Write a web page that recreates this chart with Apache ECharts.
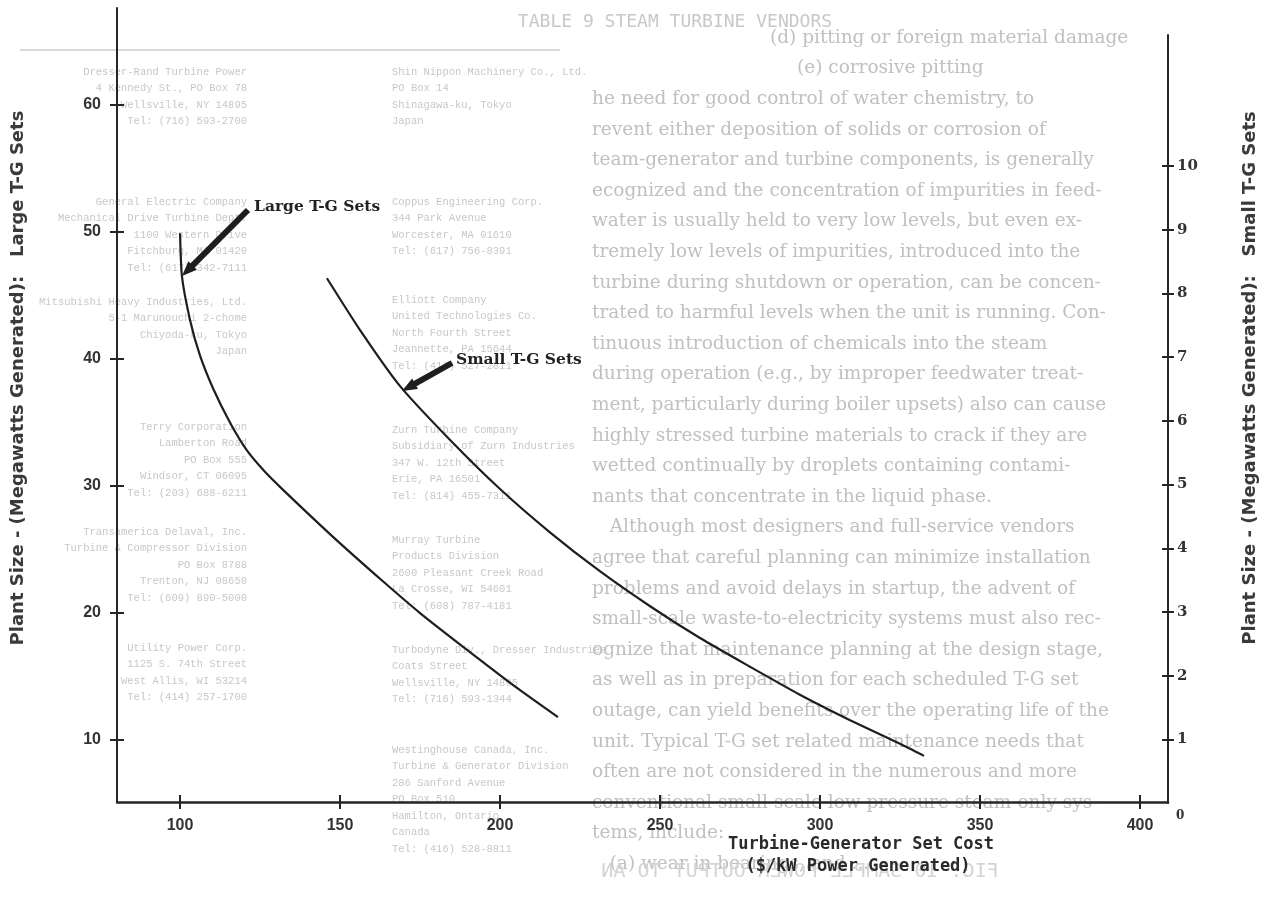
<!DOCTYPE html>
<html>
<head>
<meta charset="utf-8">
<title>Plant Size vs Turbine-Generator Set Cost</title>
<script src="https://cdn.jsdelivr.net/npm/echarts@6/dist/echarts.min.js"></script>
<style>
  html, body { margin: 0; padding: 0; background: #fff; }
  #chart { width: 1269px; height: 900px; }
</style>
</head>
<body>
<div id="chart"></div>
<script>
// tick labels
const costTicks = [100, 150, 200, 250, 300, 350, 400];
const largeTicks = [10, 20, 30, 40, 50, 60];
const smallTicks = [1, 2, 3, 4, 5, 6, 7, 8, 9, 10];

// Large T-G sets: cost ($/kW) vs plant size (MW, left axis)
const largeCost = [100.0, 100.6, 103.1, 106.2, 110.3, 115.6, 120.9, 126.6, 132.2, 147.8, 163.4, 175.0, 189.7, 205.3, 218.1];
const largeSize = [49.9, 46.5, 43.1, 40.3, 37.7, 35.0, 32.8, 31.1, 29.7, 26.0, 22.5, 20.0, 17.1, 14.1, 11.8];

// Small T-G sets: cost ($/kW) vs plant size (MW, right axis)
const smallCost = [145.9, 156.2, 168.7, 184.4, 200.0, 215.6, 231.2, 246.9, 262.5, 278.1, 293.7, 309.4, 325.0, 332.5];
const smallSize = [8.24, 7.43, 6.55, 5.70, 4.93, 4.25, 3.64, 3.09, 2.59, 2.14, 1.70, 1.30, 0.93, 0.74];

// show-through text from the scanned page (background only)
const pageLines = [
  '(d) pitting or foreign material damage',
  '(e) corrosive pitting',
  'he need for good control of water chemistry, to',
  'revent either deposition of solids or corrosion of',
  'team-generator and turbine components, is generally',
  'ecognized and the concentration of impurities in feed-',
  'water is usually held to very low levels, but even ex-',
  'tremely low levels of impurities, introduced into the',
  'turbine during shutdown or operation, can be concen-',
  'trated to harmful levels when the unit is running. Con-',
  'tinuous introduction of chemicals into the steam',
  'during operation (e.g., by improper feedwater treat-',
  'ment, particularly during boiler upsets) also can cause',
  'highly stressed turbine materials to crack if they are',
  'wetted continually by droplets containing contami-',
  'nants that concentrate in the liquid phase.',
  '   Although most designers and full-service vendors',
  'agree that careful planning can minimize installation',
  'problems and avoid delays in startup, the advent of',
  'small-scale waste-to-electricity systems must also rec-',
  'ognize that maintenance planning at the design stage,',
  'as well as in preparation for each scheduled T-G set',
  'outage, can yield benefits over the operating life of the',
  'unit. Typical T-G set related maintenance needs that',
  'often are not considered in the numerous and more',
  'conventional small-scale low pressure steam-only sys-',
  'tems, include:',
  '   (a) wear in bearings, and ...'
];
const vendorsA = [
  ['Dresser-Rand Turbine Power', '4 Kennedy St., PO Box 78', 'Wellsville, NY 14895', 'Tel: (716) 593-2700'],
  ['General Electric Company', 'Mechanical Drive Turbine Dept.', '1100 Western Drive', 'Fitchburg, MA 01420', 'Tel: (617) 342-7111'],
  ['Mitsubishi Heavy Industries, Ltd.', '5-1 Marunouchi 2-chome', 'Chiyoda-ku, Tokyo', 'Japan'],
  ['Terry Corporation', 'Lamberton Road', 'PO Box 555', 'Windsor, CT 06095', 'Tel: (203) 688-6211'],
  ['Transamerica Delaval, Inc.', 'Turbine & Compressor Division', 'PO Box 8788', 'Trenton, NJ 08650', 'Tel: (609) 890-5000'],
  ['Utility Power Corp.', '1125 S. 74th Street', 'West Allis, WI 53214', 'Tel: (414) 257-1700']
];
const vendorsB = [
  ['Shin Nippon Machinery Co., Ltd.', 'PO Box 14', 'Shinagawa-ku, Tokyo', 'Japan'],
  ['Coppus Engineering Corp.', '344 Park Avenue', 'Worcester, MA 01610', 'Tel: (617) 756-8391'],
  ['Elliott Company', 'United Technologies Co.', 'North Fourth Street', 'Jeannette, PA 15644', 'Tel: (412) 527-2811'],
  ['Zurn Turbine Company', 'Subsidiary of Zurn Industries', '347 W. 12th Street', 'Erie, PA 16501', 'Tel: (814) 455-7311'],
  ['Murray Turbine', 'Products Division', '2600 Pleasant Creek Road', 'La Crosse, WI 54601', 'Tel: (608) 787-4181'],
  ['Turbodyne Div., Dresser Industries', 'Coats Street', 'Wellsville, NY 14895', 'Tel: (716) 593-1344'],
  ['Westinghouse Canada, Inc.', 'Turbine & Generator Division', '286 Sanford Avenue', 'PO Box 510', 'Hamilton, Ontario', 'Canada', 'Tel: (416) 528-8811']
];

const zip = (xs, ys) => xs.map((x, i) => [x, ys[i]]);

function arrow(x1, y1, x2, y2) {
  const dx = x2 - x1, dy = y2 - y1, len = Math.hypot(dx, dy);
  const ux = dx / len, uy = dy / len;
  const head = 15, half = 6;
  const bx = x2 - ux * head, by = y2 - uy * head;
  return [
    { type: 'line', z: 50, shape: { x1: x1, y1: y1, x2: bx + ux * 2, y2: by + uy * 2 }, style: { stroke: '#1e1e1e', lineWidth: 6 } },
    { type: 'polygon', z: 50, shape: { points: [[x2, y2], [bx - uy * half, by + ux * half], [bx + uy * half, by - ux * half]] }, style: { fill: '#1e1e1e' } }
  ];
}

const ghost = '#c0c0c0';
const bg = [];
pageLines.forEach((t, i) => {
  let x = 592;
  if (i === 0) x = 770;
  if (i === 1) x = 797;
  bg.push({ type: 'text', z: -10, x: x, y: 38 + i * 30.6, style: { text: t, fontFamily: 'DejaVu Serif', fontSize: 18.5, fill: ghost, verticalAlign: 'middle' } });
});
const blockA = [72, 202, 302, 427, 532, 648];
vendorsA.forEach((blk, b) => blk.forEach((t, j) => {
  bg.push({ type: 'text', z: -10, x: 247, y: blockA[b] + j * 16.5, style: { text: t, fontFamily: 'Liberation Mono', fontSize: 10.5, fill: '#c8c8c8', align: 'right', verticalAlign: 'middle' } });
}));
const blockB = [72, 202, 300, 430, 540, 650, 750];
vendorsB.forEach((blk, b) => blk.forEach((t, j) => {
  bg.push({ type: 'text', z: -10, x: 392, y: blockB[b] + j * 16.5, style: { text: t, fontFamily: 'Liberation Mono', fontSize: 10.5, fill: '#c8c8c8', verticalAlign: 'middle' } });
}));
bg.push({ type: 'text', z: -10, x: 675, y: 22, style: { text: 'TABLE 9 STEAM TURBINE VENDORS', fontFamily: 'DejaVu Sans Mono', fontSize: 18, fill: '#c8c8c8', align: 'center', verticalAlign: 'middle' } });
bg.push({ type: 'line', z: -10, shape: { x1: 20, y1: 50, x2: 560, y2: 50 }, style: { stroke: '#dadada', lineWidth: 2 } });
bg.push({ type: 'text', z: -10, x: 800, y: 872, scaleX: -1, style: { text: 'FIG. 10 SAMPLE POWER OUTPUT TO AN', fontFamily: 'DejaVu Sans Mono', fontSize: 20, fill: '#d4d4d4', align: 'center', verticalAlign: 'middle' } });

const axisColor = '#262626';
const tickFont = { fontFamily: 'Liberation Sans', fontWeight: 'bold', fontSize: 16, color: '#333' };
const titleFont = { fontFamily: 'DejaVu Sans', fontWeight: 'bold', fontSize: 18, fill: '#3a3a3a' };
const hiddenLine = { show: true, lineStyle: { opacity: 0 } };

const chart = echarts.init(document.getElementById('chart'));
const option = {
  backgroundColor: '#fff',
  animation: false,
  grid: [
    { left: 117, right: 101, top: 8, bottom: 98 },
    { left: 117, right: 101, top: 35, bottom: 97 }
  ],
  xAxis: [
    {
      gridIndex: 0, type: 'value', min: 80.3, max: 408.75, position: 'bottom',
      axisLine: { lineStyle: { color: axisColor, width: 2.5 } },
      axisTick: { customValues: costTicks, length: 7, lineStyle: { color: axisColor, width: 2 } },
      axisLabel: Object.assign({ customValues: costTicks, margin: 16 }, tickFont),
      splitLine: { show: false }
    },
    {
      gridIndex: 0, type: 'value', min: 80.3, max: 408.75, position: 'bottom',
      axisLine: hiddenLine,
      axisTick: { customValues: costTicks, inside: true, length: 7, lineStyle: { color: axisColor, width: 2 } },
      axisLabel: { show: false },
      splitLine: { show: false }
    },
    { gridIndex: 1, type: 'value', min: 80.3, max: 408.75, show: false }
  ],
  yAxis: [
    {
      gridIndex: 0, type: 'value', min: 5.12, max: 67.64, position: 'left',
      axisLine: { show: true, lineStyle: { color: axisColor, width: 2 } },
      axisTick: { show: true, customValues: largeTicks, length: 7, lineStyle: { color: axisColor, width: 2 } },
      axisLabel: Object.assign({ customValues: largeTicks, margin: 16 }, tickFont),
      splitLine: { show: false }
    },
    {
      gridIndex: 0, type: 'value', min: 5.12, max: 67.64, position: 'left',
      axisLine: hiddenLine,
      axisTick: { show: true, customValues: largeTicks, inside: true, length: 7, lineStyle: { color: axisColor, width: 2 } },
      axisLabel: { show: false },
      splitLine: { show: false }
    },
    {
      gridIndex: 1, type: 'value', min: 0, max: 12.06, position: 'right',
      axisLine: { show: true, lineStyle: { color: axisColor, width: 2 } },
      axisTick: { show: true, customValues: smallTicks, length: 6, lineStyle: { color: axisColor, width: 2 } },
      axisLabel: { customValues: smallTicks, margin: 9, fontFamily: 'DejaVu Serif', fontWeight: 'bold', fontSize: 15, color: '#333' },
      splitLine: { show: false }
    },
    {
      gridIndex: 1, type: 'value', min: 0, max: 12.06, position: 'right',
      axisLine: hiddenLine,
      axisTick: { show: true, customValues: smallTicks, inside: true, length: 6, lineStyle: { color: axisColor, width: 2 } },
      axisLabel: { show: false },
      splitLine: { show: false }
    }
  ],
  series: [
    {
      name: 'Large T-G Sets', type: 'line', xAxisIndex: 0, yAxisIndex: 0,
      data: zip(largeCost, largeSize), smooth: 0.2, showSymbol: false,
      lineStyle: { color: '#1e1e1e', width: 2.2 }
    },
    {
      name: 'Small T-G Sets', type: 'line', xAxisIndex: 2, yAxisIndex: 2,
      data: zip(smallCost, smallSize), smooth: 0.2, showSymbol: false,
      lineStyle: { color: '#1e1e1e', width: 2.2 }
    }
  ],
  graphic: bg.concat(
    arrow(248, 210, 182, 276),
    arrow(452, 363, 402, 391),
    [
      { type: 'text', z: 50, x: 254, y: 207, style: { text: 'Large T-G Sets', fontFamily: 'DejaVu Serif', fontWeight: 'bold', fontSize: 15.5, fill: '#222', verticalAlign: 'middle' } },
      { type: 'text', z: 50, x: 456, y: 360, style: { text: 'Small T-G Sets', fontFamily: 'DejaVu Serif', fontWeight: 'bold', fontSize: 15.5, fill: '#222', verticalAlign: 'middle' } },
      { type: 'text', z: 50, x: 861, y: 845, style: { text: 'Turbine-Generator Set Cost', fontFamily: 'DejaVu Sans Mono', fontWeight: 'bold', fontSize: 17, fill: '#2a2a2a', align: 'center', verticalAlign: 'middle' } },
      { type: 'text', z: 50, x: 858, y: 867, style: { text: '($/kW Power Generated)', fontFamily: 'DejaVu Sans Mono', fontWeight: 'bold', fontSize: 17, fill: '#2a2a2a', align: 'center', verticalAlign: 'middle' } },
      { type: 'text', z: 50, x: 18, y: 378, rotation: Math.PI / 2, style: Object.assign({ text: 'Plant Size - (Megawatts Generated):   Large T-G Sets', align: 'center', verticalAlign: 'middle' }, titleFont) },
      { type: 'text', z: 50, x: 1250, y: 378, rotation: Math.PI / 2, style: Object.assign({ text: 'Plant Size - (Megawatts Generated):   Small T-G Sets', align: 'center', verticalAlign: 'middle' }, titleFont) },
      { type: 'text', z: 50, x: 1176, y: 816, style: { text: '0', fontFamily: 'DejaVu Serif', fontWeight: 'bold', fontSize: 12, fill: '#333', verticalAlign: 'middle' } }
    ]
  )
};
chart.setOption(option);
window.addEventListener('resize', () => chart.resize());
</script>
</body>
</html>
